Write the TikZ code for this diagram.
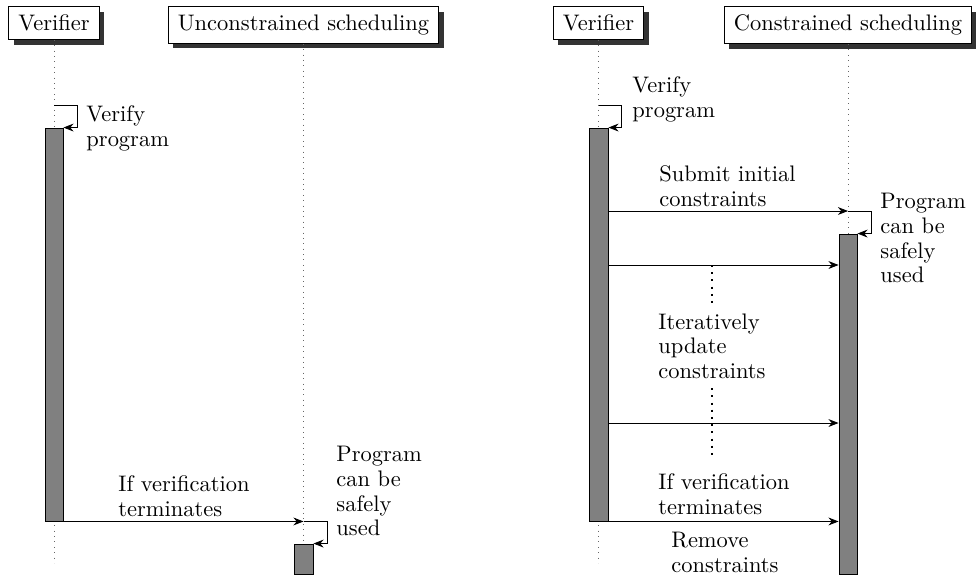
\documentclass[tikz,border=0pt]{standalone}
\usepackage{tikz}
\usetikzlibrary{arrows.meta,positioning,fit,shadows}

\begin{document}
\begin{tikzpicture}[
    x=0.445pt, y=-0.445pt,
    inst/.style={draw, fill=white, inner xsep=4.3pt, inner ysep=3.7pt, drop shadow={shadow xshift=2.3pt, shadow yshift=-2.3pt, fill=black!80, opacity=1}},
    life/.style={dotted, black!60},
    gap/.style={line width=0.9pt, dash pattern=on 0.9pt off 2.3pt},
    bar/.style={draw, fill=gray, inner sep=0pt},
    msg/.style={-{Stealth[length=4.5pt,width=3.5pt]}},
    lbl/.style={align=left, inner sep=0pt, anchor=north west, font=\fontsize{10}{11}\selectfont},
]
\useasboundingbox (0,0) rectangle (976,579);

% participants
\node[inst, anchor=north] (ver1)   at (54,6)    {Verifier};
\node[inst, anchor=north] (usched) at (303.5,6) {Unconstrained scheduling};
\node[inst, anchor=north] (ver2)   at (598.5,6) {Verifier};
\node[inst, anchor=north] (csched) at (848,6)   {Constrained scheduling};

% message heights
\coordinate (m0)  at (0,105);
\coordinate (m1)  at (0,211);
\coordinate (m2)  at (0,265);
\coordinate (m3)  at (0,423);
\coordinate (m4)  at (0,460);
\coordinate (end) at (0,563);

% lifelines
\draw[life] (ver1) -- (ver1 |- end);
\draw[life] (usched) -- (usched |- end);
\draw[life] (ver2) -- (ver2 |- end);
\draw[life] (csched) -- (csched |- end);

% activations
\node[bar, fit={(45,128) (63,521)}]   (vbar)  {};
\node[bar, fit={(294,544) (313,574)}] (ubar)  {};
\node[bar, fit={(589,128) (608,521)}] (vbar2) {};
\node[bar, fit={(839,234) (857,574)}] (cbar)  {};

% left: unconstrained
\draw[msg] (ver1 |- m0) -- ++(23,0) |- (vbar.north east);
\draw[msg] (vbar.south east) -- (usched |- vbar.south east);
\draw[msg] (usched |- vbar.south east) -- ++(24,0) |- (ubar.north east);

\node[lbl] (lv1) at (86,105)  {Verify\\program};
\node[lbl] (lt1) at (118,475) {If verification\\terminates};
\node[lbl] (lp1) at (336,446) {Program\\can be\\safely\\used};

% right: constrained
\draw[msg] (ver2 |- m0) -- ++(23,0) |- (vbar2.north east);
\draw[msg] (vbar2.east |- m1) -- (csched |- m1);
\draw[msg] (csched |- m1) -- ++(23,0) |- (cbar.north east);
\draw[msg] (vbar2.east |- m2) -- (cbar.west |- m2);
\draw[msg] (vbar2.east |- m3) -- (cbar.west |- m3);
\draw[msg] (vbar2.south east) -- (cbar.west |- vbar2.south east);

\node[lbl] (lv2) at (632,76)  {Verify\\program};
\node[lbl] (ls)  at (659,165) {Submit initial\\constraints};
\node[lbl] (lp2) at (880,193) {Program\\can be\\safely\\used};
\node[lbl, anchor=north, inner sep=4pt] (iter) at (712,304) {Iteratively\\update\\constraints};
\node[lbl] (lt2) at (658,473) {If verification\\terminates};
\node[lbl] (lr)  at (671,532) {Remove\\constraints};

\draw[gap] (iter.north |- m2) -- (iter.north);
\draw[gap] (iter.south) -- (iter.south |- m4);
\end{tikzpicture}
\end{document}
